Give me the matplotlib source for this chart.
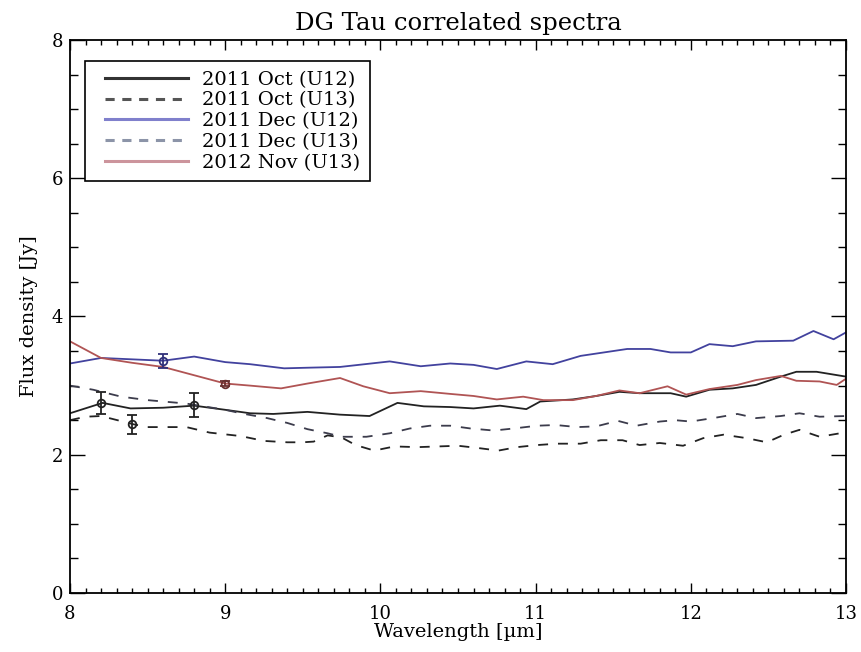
import matplotlib
matplotlib.use("Agg")
import numpy as np
import matplotlib.pyplot as plt
from matplotlib.lines import Line2D
from matplotlib.legend_handler import HandlerLine2D

plt.rcParams['font.family'] = ['DejaVu Serif']

# ---- data ----
labels = ["2011 Oct (U12)", "2011 Oct (U13)", "2011 Dec (U12)", "2011 Dec (U13)", "2012 Nov (U13)"]

wl_oct12 = [8.0, 8.21, 8.39, 8.6, 8.8, 9.0, 9.16, 9.31, 9.53, 9.74, 9.93, 10.11, 10.28, 10.45, 10.6,
            10.77, 10.94, 11.03, 11.24, 11.39, 11.54, 11.67, 11.87, 11.97, 12.12, 12.27, 12.42, 12.58,
            12.68, 12.81, 13.0]
fx_oct12 = [2.60, 2.75, 2.67, 2.68, 2.71, 2.65, 2.60, 2.59, 2.62, 2.58, 2.56, 2.75, 2.70, 2.69, 2.67,
            2.71, 2.66, 2.77, 2.80, 2.85, 2.91, 2.89, 2.89, 2.84, 2.94, 2.96, 3.01, 3.13,
            3.20, 3.20, 3.13]

wl_oct13 = [8.0, 8.1, 8.2, 8.41, 8.5, 8.75, 8.9, 9.1, 9.25, 9.4, 9.5, 9.57, 9.66, 9.75, 9.84, 9.96,
            10.09, 10.24, 10.37, 10.5, 10.62, 10.76, 10.88, 11.01, 11.14, 11.29, 11.42, 11.56, 11.67,
            11.80, 11.95, 12.08, 12.21, 12.36, 12.49, 12.60, 12.70, 12.83, 12.96, 13.0]
fx_oct13 = [2.50, 2.55, 2.56, 2.44, 2.40, 2.40, 2.32, 2.27, 2.20, 2.18, 2.18, 2.19, 2.28, 2.25, 2.14, 2.06,
            2.12, 2.11, 2.12, 2.13, 2.10, 2.06, 2.11, 2.14, 2.16, 2.16, 2.21, 2.21, 2.14,
            2.17, 2.13, 2.24, 2.29, 2.24, 2.18, 2.29, 2.36, 2.26, 2.31, 2.36]

wl_dec12 = [8.0, 8.2, 8.4, 8.6, 8.8, 9.0, 9.16, 9.38, 9.55, 9.74, 9.9, 10.06, 10.26, 10.45, 10.6,
            10.75, 10.94, 11.11, 11.29, 11.44, 11.59, 11.74, 11.87, 12.0, 12.12, 12.27, 12.42, 12.66,
            12.79, 12.92, 13.0]
fx_dec12 = [3.32, 3.40, 3.38, 3.36, 3.42, 3.34, 3.31, 3.25, 3.26, 3.27, 3.31, 3.35, 3.28, 3.32, 3.30,
            3.24, 3.35, 3.31, 3.43, 3.48, 3.53, 3.53, 3.48, 3.48, 3.60, 3.57, 3.64, 3.65,
            3.79, 3.67, 3.77]

wl_dec13 = [8.0, 8.15, 8.33, 8.5, 8.75, 9.0, 9.1, 9.27, 9.40, 9.53, 9.66, 9.75, 9.91, 10.06, 10.19,
            10.32, 10.45, 10.58, 10.73, 10.86, 11.01, 11.13, 11.27, 11.39, 11.53, 11.65, 11.80, 11.9,
            12.0, 12.17, 12.30, 12.42, 12.58, 12.70, 12.83, 13.0]
fx_dec13 = [3.00, 2.94, 2.84, 2.79, 2.74, 2.65, 2.60, 2.53, 2.46, 2.37, 2.31, 2.26, 2.26, 2.31, 2.38,
            2.42, 2.42, 2.38, 2.35, 2.38, 2.42, 2.43, 2.40, 2.41, 2.49, 2.42, 2.48, 2.50,
            2.48, 2.54, 2.59, 2.53, 2.56, 2.60, 2.55, 2.56]

wl_nov13 = [8.0, 8.2, 8.4, 8.6, 8.8, 9.0, 9.16, 9.36, 9.53, 9.74, 9.89, 10.06, 10.26, 10.45, 10.6,
            10.75, 10.92, 11.05, 11.24, 11.39, 11.54, 11.67, 11.85, 11.97, 12.12, 12.30, 12.42, 12.58,
            12.68, 12.83, 12.94, 13.0]
fx_nov13 = [3.64, 3.40, 3.33, 3.27, 3.15, 3.03, 3.00, 2.96, 3.03, 3.11, 2.99, 2.89, 2.92, 2.88, 2.85,
            2.80, 2.84, 2.79, 2.79, 2.85, 2.93, 2.89, 2.99, 2.87, 2.95, 3.01, 3.08, 3.14,
            3.07, 3.06, 3.01, 3.10]

# representative error bars (one per series)
err_wl = [8.2, 8.4, 8.6, 8.8, 9.0]
err_fx = [2.75, 2.44, 3.36, 2.72, 3.03]
err_sz = [0.16, 0.14, 0.10, 0.18, 0.03]

# ---- styling ----
line_colors = ['#222222', '#222222', '#42429e', '#3c3c4c', '#b05454']
legend_colors = ['#333333', '#555555', '#8080cc', '#8c94a8', '#cc949c']
styles = ['-', '--', '-', '--', '-']
err_colors = ['#222222', '#222222', '#30307a', '#222222', '#6a3030']


class PadHandler(HandlerLine2D):
    """Legend line handle that starts a little to the right of the frame."""
    def get_xdata(self, legend, xdescent, ydescent, width, height, fontsize):
        off = 7.5
        x = np.array([-xdescent + off, -xdescent + width])
        return x, x


fig = plt.figure(figsize=(8.61, 6.52), dpi=100)
ax = fig.add_axes([0.0813, 0.0905, 0.9013, 0.8482])

series = [(wl_oct12, fx_oct12), (wl_oct13, fx_oct13), (wl_dec12, fx_dec12),
          (wl_dec13, fx_dec13), (wl_nov13, fx_nov13)]
for (w, f), c, ls in zip(series, line_colors, styles):
    l, = ax.plot(w, f, color=c, lw=1.3, ls=ls)
    if ls == '--':
        l.set_dashes((5.5, 5.5))

for x, y, e, c in zip(err_wl, err_fx, err_sz, err_colors):
    ax.errorbar([x], [y], yerr=[e], fmt='o', ms=5.5, mfc='none', mec=c, mew=1.3, ecolor=c,
                elinewidth=1.3, capsize=3.5, capthick=1.3)

ax.set_xlim(8, 13)
ax.set_ylim(0, 8)
ax.set_xticks([8, 9, 10, 11, 12, 13])
ax.set_xticks([8 + 0.1 * i for i in range(51)], minor=True)
ax.set_yticks([0, 2, 4, 6, 8])
ax.set_yticks([0.5 * i for i in range(17)], minor=True)
ax.tick_params(axis='both', which='both', direction='in', top=True, right=True,
               labelsize=13, width=1.0)
ax.tick_params(axis='x', which='major', length=7.5, pad=9)
ax.tick_params(axis='x', which='minor', length=3.5)
ax.tick_params(axis='y', which='major', length=10.5, pad=5)
ax.tick_params(axis='y', which='minor', length=5.5)
for s in ax.spines.values():
    s.set_linewidth(1.3)

ax.set_title("DG Tau correlated spectra", fontsize=17.5, pad=7)
ax.set_xlabel("Wavelength [µm]", fontsize=14, labelpad=0)
ax.set_ylabel("Flux density [Jy]", fontsize=14, labelpad=10)

handles = []
for c, ls in zip(legend_colors, styles):
    h = Line2D([], [], color=c, lw=2.2, ls=ls)
    if ls == '--':
        h.set_dashes((3, 2.5))
    handles.append(h)
leg = ax.legend(handles, labels, loc='upper left', bbox_to_anchor=(0.019, 0.962),
                borderaxespad=0, fontsize=14, handlelength=4.8, handletextpad=0.75,
                labelspacing=0.14, fancybox=False, framealpha=1, edgecolor='black',
                borderpad=0.5, handler_map={Line2D: PadHandler()})
leg.get_frame().set_linewidth(1.2)

fig.savefig("out.png", dpi=100)
